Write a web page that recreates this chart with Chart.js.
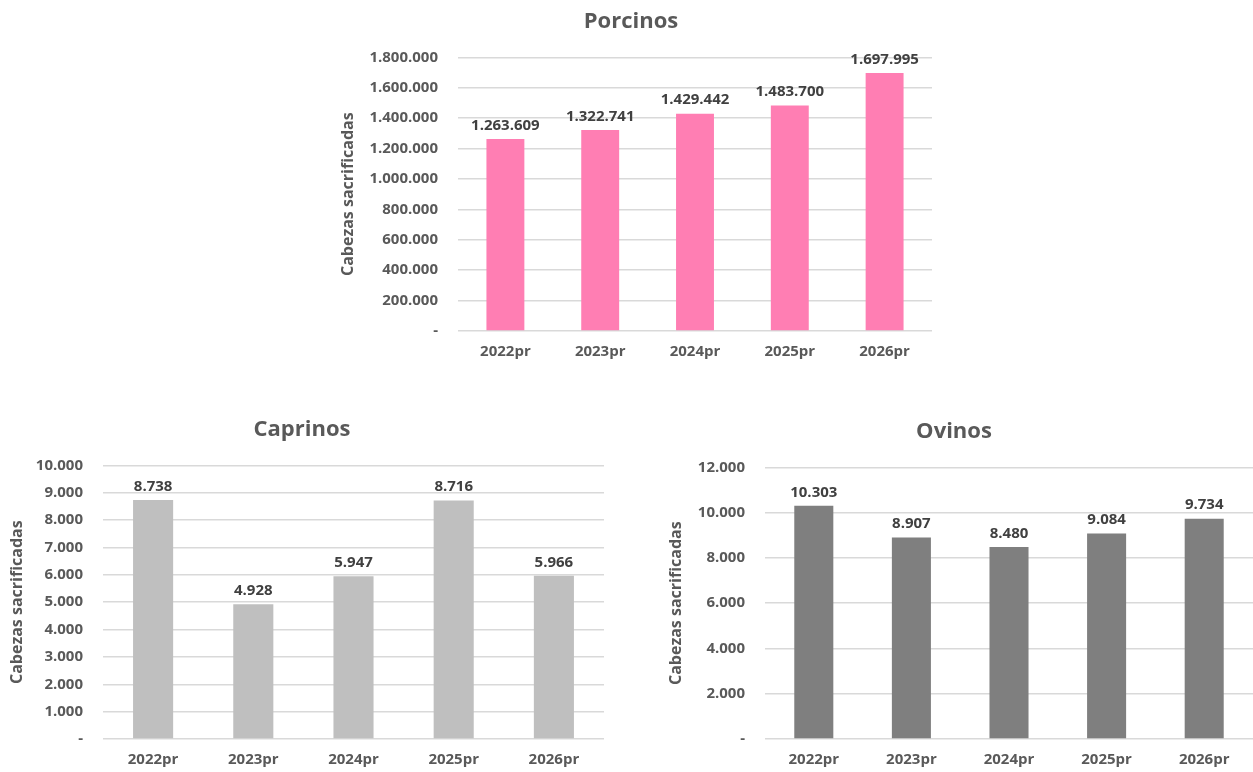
<!DOCTYPE html>
<html>
<head>
<meta charset="utf-8">
<script src="https://cdn.jsdelivr.net/npm/chart.js@4.4.1/dist/chart.umd.min.js"></script>
<style>
  html, body { margin: 0; padding: 0; background: #ffffff; }
  body { width: 1253px; height: 772px; position: relative; overflow: hidden; }
  .box { position: absolute; }
</style>
</head>
<body>
<div class="box" id="b1" style="left:330px; top:0px; width:615px; height:373px;"><canvas id="c1"></canvas></div>
<div class="box" id="b2" style="left:0px; top:398px; width:615px; height:383px;"><canvas id="c2"></canvas></div>
<div class="box" id="b3" style="left:655px; top:398px; width:598px; height:383px;"><canvas id="c3"></canvas></div>
<script>
const categories = ['2022pr', '2023pr', '2024pr', '2025pr', '2026pr'];
const porcinos = [1263609, 1322741, 1429442, 1483700, 1697995];
const caprinos = [8738, 4928, 5947, 8716, 5966];
const ovinos = [10303, 8907, 8480, 9084, 9734];
const yTitle = 'Cabezas sacrificadas';

const FONT = "'Open Sans', 'Noto Sans', sans-serif";
const TXT = '#595959';

function fmt(v) {
  if (v === 0) return '-';
  return Math.round(v).toString().replace(/\B(?=(\d{3})+(?!\d))/g, '.');
}

const labelPlugin = {
  id: 'barLabels',
  afterDatasetsDraw(chart) {
    const ctx = chart.ctx;
    ctx.save();
    ctx.font = 'bold 15px ' + FONT;
    ctx.fillStyle = '#404040';
    ctx.textAlign = 'center';
    ctx.textBaseline = 'bottom';
    chart.data.datasets.forEach((ds, di) => {
      chart.getDatasetMeta(di).data.forEach((bar, i) => {
        ctx.fillText(fmt(ds.data[i]), bar.x, bar.y - 6);
      });
    });
    ctx.restore();
  }
};

function makeChart(id, title, data, color, max, step, yWidth, titlePad, padR, yTitlePad) {
  return new Chart(document.getElementById(id), {
    type: 'bar',
    data: {
      labels: categories,
      datasets: [{ data: data, backgroundColor: color, borderWidth: 0,
        categoryPercentage: 1.0, barPercentage: 0.4 }]
    },
    options: {
      responsive: true,
      maintainAspectRatio: false,
      animation: false,
      layout: { padding: { left: 0, right: padR, top: 0, bottom: 0 } },
      plugins: {
        legend: { display: false },
        tooltip: { enabled: false },
        title: {
          display: true, text: title, color: TXT,
          font: { family: FONT, size: 22, weight: 'bold' },
          padding: titlePad
        }
      },
      scales: {
        x: {
          grid: { display: false, drawTicks: false },
          border: { display: false },
          ticks: { color: TXT, font: { family: FONT, size: 15, weight: 'bold' }, padding: 12 }
        },
        y: {
          min: 0, max: max,
          grid: { color: '#d9d9d9', lineWidth: 1.5, drawTicks: false },
          border: { display: false },
          ticks: { stepSize: step, color: TXT, padding: 20,
            font: { family: FONT, size: 15, weight: 'bold' },
            callback: (v) => fmt(v) },
          title: { display: true, text: yTitle, color: TXT,
            font: { family: FONT, size: 16, weight: 'bold' }, padding: { top: yTitlePad, bottom: 0 } },
          afterFit: (axis) => { axis.width = yWidth; }
        }
      }
    },
    plugins: [labelPlugin]
  });
}

makeChart('c1', 'Porcinos', porcinos, '#ff7eb3', 1800000, 200000, 128, { top: 9, bottom: 22 }, 13, 9);
makeChart('c2', 'Caprinos', caprinos, '#bfbfbf', 10000, 1000, 103, { top: 19, bottom: 22 }, 11, 8);
makeChart('c3', 'Ovinos', ovinos, '#7f7f7f', 12000, 2000, 110, { top: 21, bottom: 22 }, 0, 12);
</script>
</body>
</html>
